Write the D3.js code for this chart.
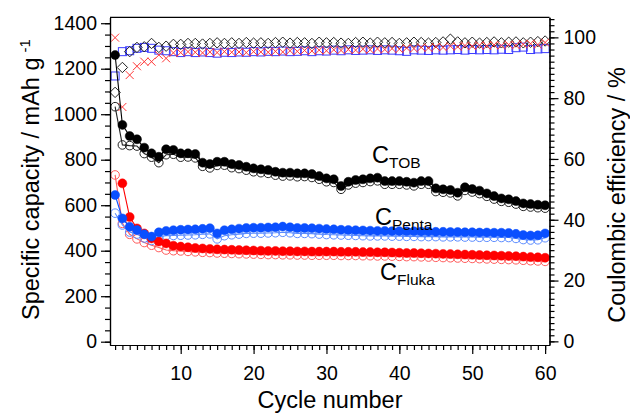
<!DOCTYPE html>
<html><head><meta charset="utf-8">
<script src="https://cdn.jsdelivr.net/npm/d3@7"></script>
<style>body{margin:0;background:#fff}svg{display:block}</style>
</head><body>
<svg id="c" width="630" height="414"></svg>
<script>
const cycles = [1,2,3,4,5,6,7,8,9,10,11,12,13,14,15,16,17,18,19,20,21,22,23,24,25,26,27,28,29,30,
  31,32,33,34,35,36,37,38,39,40,41,42,43,44,45,46,47,48,49,50,51,52,53,54,55,56,57,58,59,60];

const tobDischarge = [1260,953,904,890,853,828,813,846,843,828, 828,825,787,781,791,791,781,777,769,762,
  758,755,747,743,743,740,740,737,728,718, 714,684,703,711,714,718,721,706,706,706,
  703,699,706,706,674,670,667,655,679,671, 664,652,640,630,626,618,608,605,602,600];
const tobCharge = [1033,865,862,860,827,811,787,822,824,811, 812,808,771,764,775,776,765,761,754,747,
  743,740,732,728,729,725,726,722,714,703, 700,670,689,697,700,704,707,692,692,692,
  689,685,692,692,660,657,654,641,665,658, 651,639,627,617,613,605,595,592,589,587];
const pentaDischarge = [645,542,505,491,472,462,481,487,490,492, 493,494,496,499,476,490,494,497,500,501,
  501,502,503,506,503,500,500,499,497,495, 494,492,491,490,489,488,487,487,486,486,
  485,485,484,484,483,483,482,482,481,481, 480,480,479,479,478,474,469,467,468,476];
const pentaCharge = [565,513,482,473,456,445,461,466,467,468, 469,470,472,474,452,466,470,473,476,477,
  477,478,479,481,479,476,476,475,473,471, 470,469,468,467,466,465,465,465,464,464,
  463,463,462,462,462,461,461,461,460,460, 459,459,459,458,458,454,449,447,448,457];
const flukaDischarge = [null,696,548,498,476,454,440,432,422,418, 415,412,410,408,406,405,404,403,402,401,
  400,399,399,398,398,397,397,396,396,396, 396,395,395,395,394,394,393,393,392,391,
  390,390,389,388,387,386,385,384,383,382, 381,380,379,378,377,376,374,372,371,369];
const flukaCharge = [733,520,472,452,436,424,414,403,400,399, 397,395,393,392,390,389,388,387,386,385,
  384,383,383,382,382,381,381,380,380,380, 380,379,379,379,378,378,377,377,376,375,
  374,374,373,372,371,370,369,368,367,366, 365,364,363,362,361,360,358,356,355,353];

const ceTOB = [81.9,90.1,95.3,96.7,96.9,98.0,96.7,97.1,97.7,97.7, 98.0,98.0,97.8,98.0,98.2,98.0,98.2,98.0,98.3,98.1,
  98.2,98.0,98.3,98.4,98.1,98.3,98.2,98.0,98.4,98.2, 98.3,98.1,98.0,98.3,98.4,98.1,98.4,98.2,98.3,98.0,
  98.2,98.4,98.3,98.1,98.3,98.5,99.4,98.5,98.2,98.4, 98.1,98.3,98.5,98.2,98.4,98.5,98.2,98.4,98.6,98.8];
const cePenta = [87.3,95.3,95.6,96.4,96.7,96.4,95.8,95.6,95.3,95.0, 95.3,95.0,95.2,95.0,94.8,95.1,95.0,95.2,95.1,95.3,
  95.2,95.4,95.3,95.5,95.3,95.4,95.6,95.3,95.6,95.5, 95.8,95.6,95.9,95.7,95.8,95.9,95.7,95.9,95.8,95.6,
  95.4,95.9,95.8,95.7,95.9,95.8,95.9,96.0,95.8,96.0, 95.9,96.0,95.9,96.1,96.0,96.6,96.8,96.0,96.2,96.3];
const ceFluka = [99.9,77.1,87.6,90.5,92.0,92.0,94.2,93.1,94.9,95.0, 95.3,95.1,94.9,95.2,95.0,95.3,95.1,95.2,95.0,95.3,
  95.2,95.1,95.4,95.2,95.6,95.4,95.7,95.5,95.8,95.6, 95.9,95.7,96.0,95.8,96.1,95.9,96.2,96.0,96.3,96.1,
  96.5,96.3,96.7,96.5,96.9,96.7,97.1,96.9,97.3,97.1, 97.4,97.2,97.5,97.3,97.6,97.4,97.7,97.9,97.6,98.3];

const xTicks = [10,20,30,40,50,60];
const yLeftTicks = [0,200,400,600,800,1000,1200,1400];
const yRightTicks = [0,20,40,60,80,100];
const seriesLabels = [
  {main:"C", sub:"TOB", x:372, y:163},
  {main:"C", sub:"Penta", x:375, y:225},
  {main:"C", sub:"Fluka", x:380, y:280}
];

const FONT = "'Liberation Sans', Arial, Helvetica, sans-serif";
const svg = d3.select('#c').style('font-family', FONT);
const L = 110, R = 549.5, T = 17.3, B = 345;
const x = d3.scaleLinear().domain([0.3, 60.6]).range([L, R]);
const yL = d3.scaleLinear().domain([-14.5, 1426]).range([B, T]);
const yR = d3.scaleLinear().domain([-1.2, 106.6]).range([B, T]);

// capacity series
function drawCap(data, color, filled, r) {
  const pts = cycles.map((c, i) => ({c, v: data[i]})).filter(d => d.v != null);
  const line = d3.line().x(d => x(d.c)).y(d => yL(d.v));
  svg.append('path').datum(pts).attr('d', line)
    .attr('fill', 'none').attr('stroke', color).attr('stroke-width', 1.1);
  svg.append('g').selectAll('circle').data(pts).join('circle')
    .attr('cx', d => x(d.c)).attr('cy', d => yL(d.v)).attr('r', r)
    .attr('fill', filled ? color : 'none')
    .attr('stroke', color).attr('stroke-width', filled ? 0.5 : 1);
}

// CE markers
function drawCE(data, type, color) {
  const g = svg.append('g');
  const pts = cycles.map((c, i) => ({c, v: data[i]}));
  if (type === 'square') {
    g.selectAll('rect').data(pts).join('rect')
      .attr('x', d => x(d.c) - 4).attr('y', d => yR(d.v) - 4)
      .attr('width', 8).attr('height', 8)
      .attr('fill', 'none').attr('stroke', color).attr('stroke-width', 1);
  } else if (type === 'diamond') {
    g.selectAll('path').data(pts).join('path')
      .attr('d', d => { const cx = x(d.c), cy = yR(d.v), s = 5.2;
        return `M${cx},${cy - s}L${cx + s},${cy}L${cx},${cy + s}L${cx - s},${cy}Z`; })
      .attr('fill', 'none').attr('stroke', color).attr('stroke-width', 1);
  } else {
    g.selectAll('path').data(pts).join('path')
      .attr('d', d => { const cx = x(d.c), cy = yR(d.v), s = 4;
        return `M${cx - s},${cy - s}L${cx + s},${cy + s}M${cx - s},${cy + s}L${cx + s},${cy - s}`; })
      .attr('fill', 'none').attr('stroke', color).attr('stroke-width', 1);
  }
}

drawCE(cePenta, 'square', '#3b3bff');
drawCE(ceTOB, 'diamond', '#222');
drawCE(ceFluka, 'cross', '#ff3535');

drawCap(flukaCharge, '#ff5a5a', false, 4.3);
drawCap(pentaCharge, '#5b8cff', false, 4.3);
drawCap(tobCharge, '#222', false, 4.3);
drawCap(flukaDischarge, '#ff0000', true, 4.5);
drawCap(pentaDischarge, '#0a4fff', true, 4.5);
drawCap(tobDischarge, '#000', true, 4.5);

// axes
const AX_W = 1.2;
function styleAxis(g, fs) {
  g.selectAll('path.domain').attr('stroke', '#000').attr('stroke-width', AX_W);
  g.selectAll('.tick line').attr('stroke', '#000').attr('stroke-width', AX_W);
  g.selectAll('.tick text').attr('font-size', fs).attr('fill', '#000').attr('font-family', FONT);
}
// bottom
const gxMinor = svg.append('g').attr('transform', `translate(0,${B})`)
  .call(d3.axisBottom(x).tickValues(cycles).tickSize(5).tickSizeOuter(0).tickFormat(''));
styleAxis(gxMinor, 0);
const gx = svg.append('g').attr('transform', `translate(0,${B})`)
  .call(d3.axisBottom(x).tickValues(xTicks).tickSize(9).tickSizeOuter(0).tickPadding(12).tickFormat(d3.format('d')));
styleAxis(gx, 19.5);
// left
const gyLMinor = svg.append('g').attr('transform', `translate(${L},0)`)
  .call(d3.axisLeft(yL).tickValues(d3.range(0, 1401, 50)).tickSize(5).tickSizeOuter(0).tickFormat(''));
styleAxis(gyLMinor, 0);
const gyL = svg.append('g').attr('transform', `translate(${L},0)`)
  .call(d3.axisLeft(yL).tickValues(yLeftTicks).tickSize(9).tickSizeOuter(0).tickPadding(4).tickFormat(d3.format('d')));
styleAxis(gyL, 19.5);
// right
const gyRMinor = svg.append('g').attr('transform', `translate(${R},0)`)
  .call(d3.axisRight(yR).tickValues(d3.range(0, 107, 2)).tickSize(5).tickSizeOuter(0).tickFormat(''));
styleAxis(gyRMinor, 0);
const gyR = svg.append('g').attr('transform', `translate(${R},0)`)
  .call(d3.axisRight(yR).tickValues(yRightTicks).tickSize(9).tickSizeOuter(0).tickPadding(5).tickFormat(d3.format('d')));
styleAxis(gyR, 19.5);
// top frame line
svg.append('line').attr('x1', L).attr('x2', R).attr('y1', T).attr('y2', T)
  .attr('stroke', '#000').attr('stroke-width', AX_W);

// titles
svg.append('text').attr('x', 330).attr('y', 408).attr('text-anchor', 'middle')
  .attr('font-size', 23.5).text('Cycle number');
const lt = svg.append('text').attr('transform', 'translate(39,320) rotate(-90)')
  .attr('font-size', 23.5);
lt.append('tspan').text('Specific capacity / mAh g');
lt.append('tspan').attr('dx', 5).attr('dy', -9).attr('font-size', 15).text('-1');
svg.append('text').attr('transform', 'translate(625,195) rotate(-90)')
  .attr('text-anchor', 'middle').attr('font-size', 23.5).text('Coulombic efficiency / %');

// series labels
seriesLabels.forEach(s => {
  const t = svg.append('text').attr('x', s.x).attr('y', s.y).attr('font-size', 23.5);
  t.append('tspan').text(s.main);
  t.append('tspan').attr('dy', 5).attr('font-size', 15.5).text(s.sub);
});
</script>
</body></html>
